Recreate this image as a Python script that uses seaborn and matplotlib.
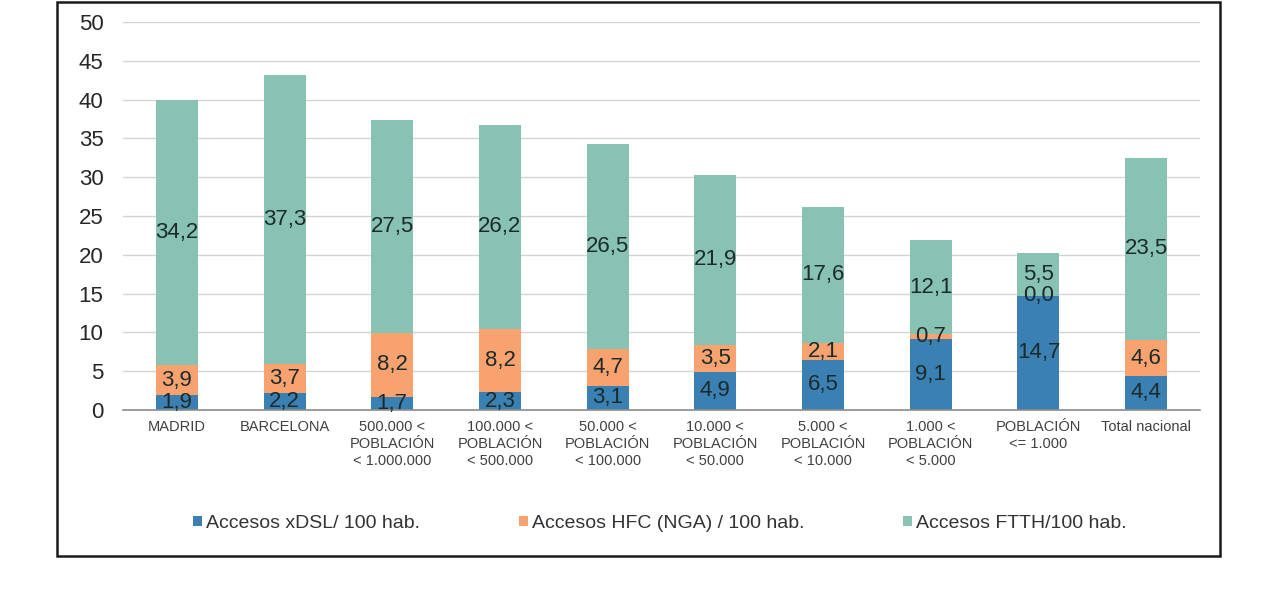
import matplotlib
matplotlib.use("Agg")
import matplotlib.pyplot as plt
import seaborn as sns
import numpy as np
import pandas as pd
from matplotlib.patches import Patch, Rectangle

categories = ["MADRID", "BARCELONA", "500.000 <\nPOBLACIÓN\n< 1.000.000",
              "100.000 <\nPOBLACIÓN\n< 500.000", "50.000 <\nPOBLACIÓN\n< 100.000",
              "10.000 <\nPOBLACIÓN\n< 50.000", "5.000 <\nPOBLACIÓN\n< 10.000",
              "1.000 <\nPOBLACIÓN\n< 5.000", "POBLACIÓN\n<= 1.000", "Total nacional"]
xdsl = [1.9, 2.2, 1.7, 2.3, 3.1, 4.9, 6.5, 9.1, 14.7, 4.4]
hfc = [3.9, 3.7, 8.2, 8.2, 4.7, 3.5, 2.1, 0.7, 0.0, 4.6]
ftth = [34.2, 37.3, 27.5, 26.2, 26.5, 21.9, 17.6, 12.1, 5.5, 23.5]
series_names = ["Accesos xDSL/ 100 hab.", "Accesos HFC (NGA) / 100 hab.", "Accesos FTTH/100 hab."]
y_ticks = [0, 5, 10, 15, 20, 25, 30, 35, 40, 45, 50]

colors = ["#3a80b3", "#f8a36f", "#88c2b3"]

sns.set_style("white")
plt.rcParams["font.family"] = ["Liberation Sans", "DejaVu Sans"]

fig = plt.figure(figsize=(12.8, 6.08), dpi=100)
ax = fig.add_axes([123/1280, 1-410/608, (1200-123)/1280, (410-22)/608])

df = pd.DataFrame({"cat": categories, "xdsl": xdsl, "hfc": hfc, "ftth": ftth})
df["c1"] = df["xdsl"]
df["c2"] = df["xdsl"] + df["hfc"]
df["c3"] = df["c2"] + df["ftth"]

for col, color in zip(["c3", "c2", "c1"], colors[::-1]):
    sns.barplot(data=df, x="cat", y=col, color=color, width=0.39, saturation=1,
                linewidth=0, ax=ax, order=categories)

# value labels
for i in range(len(categories)):
    bottoms = [0, df["c1"][i], df["c2"][i]]
    vals = [xdsl[i], hfc[i], ftth[i]]
    for b, v in zip(bottoms, vals):
        ax.text(i, b + v / 2, f"{v:.1f}".replace(".", ","), ha="center", va="center",
                fontsize=16, color="#1c2a2a")

ax.set_xlim(-0.5, len(categories) - 0.5)
ax.set_ylim(0, 50)
ax.set_yticks(y_ticks)
ax.set_yticklabels([str(t) for t in y_ticks], fontsize=16, color="#262626")
ax.set_xlabel("")
ax.set_ylabel("")
ax.set_xticks(range(len(categories)))
ax.set_xticklabels(categories, fontsize=10.5, color="#404040", linespacing=1.3)
ax.set_xticks(np.arange(-0.5, len(categories), 1), minor=True)
ax.tick_params(axis="x", which="major", length=0, pad=7)
ax.tick_params(axis="x", which="minor", length=5, width=1, color="#8c8c8c", direction="out")
ax.tick_params(axis="y", length=0, pad=14)
for s in ["left", "top", "right"]:
    ax.spines[s].set_visible(False)
ax.spines["bottom"].set_color("#8c8c8c")
ax.spines["bottom"].set_linewidth(1.2)
ax.yaxis.grid(True, color="#d4d4d4", linewidth=1)
ax.set_axisbelow(True)

handles = [Patch(facecolor=c, edgecolor="none") for c in colors]
fig.legend(handles, series_names, loc="center", bbox_to_anchor=(660/1280, 1-523.5/608),
           ncol=3, frameon=False, handlelength=0.45, handleheight=0.45, handletextpad=0.2,
           columnspacing=5.1, fontsize=14, labelcolor="#333333")

fig.add_artist(Rectangle((57/1280, 1-556/608), (1220-57)/1280, (556-2)/608,
                         transform=fig.transFigure, fill=False, edgecolor="#1a1a1a", linewidth=1.8))

fig.savefig("out.png", dpi=100, facecolor="white")
